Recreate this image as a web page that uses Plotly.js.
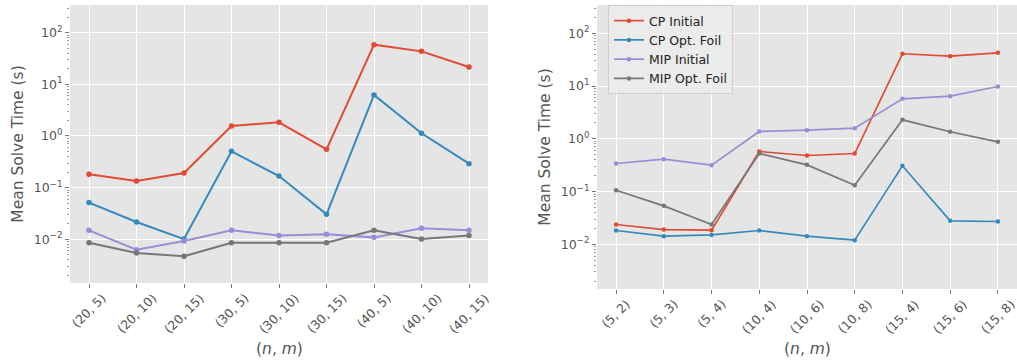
<!DOCTYPE html>
<html>
<head>
<meta charset="utf-8">
<script src="https://cdn.plot.ly/plotly-3.0.1.min.js"></script>
<style>html,body{margin:0;padding:0;background:#fff;} #chart{width:1017px;height:362px;}</style>
</head>
<body>
<div id="chart"></div>
<script>
// ---- data ----
const leftCats = ['(20, 5)', '(20, 10)', '(20, 15)', '(30, 5)', '(30, 10)', '(30, 15)', '(40, 5)', '(40, 10)', '(40, 15)'];
const rightCats = ['(5, 2)', '(5, 3)', '(5, 4)', '(10, 4)', '(10, 6)', '(10, 8)', '(15, 4)', '(15, 6)', '(15, 8)'];

const leftCPInitial  = [0.181, 0.135, 0.192, 1.56, 1.84, 0.552, 58.6, 43.5, 21.6];
const leftCPOptFoil  = [0.0513, 0.0216, 0.0101, 0.505, 0.168, 0.0305, 6.22, 1.13, 0.291];
const leftMIPInitial = [0.0149, 0.0063, 0.0093, 0.0149, 0.0118, 0.0125, 0.0109, 0.0163, 0.0149];
const leftMIPOptFoil = [0.0086, 0.00544, 0.00469, 0.0086, 0.0086, 0.0086, 0.0149, 0.0101, 0.0118];

const rightCPInitial  = [0.0238, 0.0191, 0.0186, 0.575, 0.483, 0.527, 40.9, 36.9, 42.7];
const rightCPOptFoil  = [0.0183, 0.0143, 0.0151, 0.0183, 0.0143, 0.0120, 0.308, 0.0279, 0.0271];
const rightMIPInitial = [0.341, 0.412, 0.317, 1.38, 1.46, 1.59, 5.73, 6.44, 9.82];
const rightMIPOptFoil = [0.106, 0.0537, 0.0238, 0.527, 0.321, 0.132, 2.29, 1.36, 0.877];

const seriesNames = ['CP Initial', 'CP Opt. Foil', 'MIP Initial', 'MIP Opt. Foil'];
const yTickVals = [0.01, 0.1, 1, 10, 100];
const yTickText = ['10<sup>\u22122</sup>', '10<sup>\u22121</sup>', '10<sup>0</sup>', '10<sup>1</sup>', '10<sup>2</sup>'];
const xTitle = '(<i>n</i>, <i>m</i>)';
const yTitle = 'Mean Solve Time (s)';

// ---- styling ----
const colors = ['#E24A33', '#348ABD', '#988ED5', '#777777'];
const txt = '#555555';
const font = 'DejaVu Sans, sans-serif';

const minorVals = [];
for (let e = -3; e <= 2; e++) for (let k = 2; k <= 9; k++) minorVals.push(k * Math.pow(10, e));

const leftSeries = [leftCPInitial, leftCPOptFoil, leftMIPInitial, leftMIPOptFoil];
const rightSeries = [rightCPInitial, rightCPOptFoil, rightMIPInitial, rightMIPOptFoil];

const traces = [];
leftSeries.forEach((ys, i) => traces.push({
  x: leftCats, y: ys, type: 'scatter', mode: 'lines+markers', name: seriesNames[i],
  xaxis: 'x', yaxis: 'y', showlegend: false,
  line: {color: colors[i], width: 2}, marker: {color: colors[i], size: 5.5}
}));
rightSeries.forEach((ys, i) => traces.push({
  x: rightCats, y: ys, type: 'scatter', mode: 'lines+markers', name: seriesNames[i],
  xaxis: 'x2', yaxis: 'y2', showlegend: true,
  line: {color: colors[i], width: 1.7}, marker: {color: colors[i], size: 4.5}
}));

const W = 1017, H = 362;
const lDom = [70 / W, 488 / W];
const rDom = [597 / W, 1017 / W];
const lY = [1 - 283 / H, 1 - 5 / H];
const rY = [1 - 289 / H, 1 - 5 / H];

function xax(dom, anchor) {
  return {
    domain: dom, anchor: anchor, type: 'category', range: [-0.4, 8.4],
    showgrid: true, gridcolor: '#ffffff', gridwidth: 1, zeroline: false,
    showline: false, ticks: 'outside', ticklen: 4, tickwidth: 0.8, tickcolor: txt,
    showticklabels: false, fixedrange: true
  };
}
function yax(dom, anchor) {
  return {
    domain: dom, anchor: anchor, type: 'log', range: [-2.846, 2.536],
    tickvals: yTickVals, ticktext: yTickText,
    showgrid: true, gridcolor: '#ffffff', gridwidth: 1, zeroline: false,
    showline: false, ticks: 'outside', ticklen: 4, tickwidth: 0.8, tickcolor: txt,
    tickfont: {family: font, size: 12.5, color: txt},
    minor: {tickvals: minorVals, ticks: 'outside', ticklen: 2, tickwidth: 0.6, tickcolor: txt, showgrid: false},
    title: {text: yTitle, font: {family: font, size: 15.5, color: txt}, standoff: 6},
    automargin: false
  };
}

const annotations = [];
function tickLabels(cats, xref, yBottom) {
  cats.forEach(c => annotations.push({
    x: c, xref: xref, y: yBottom, yref: 'paper', yshift: -6,
    text: c, showarrow: false, textangle: -45, xanchor: 'center', yanchor: 'top',
    font: {family: font, size: 12.5, color: txt}, borderpad: 0
  }));
}
tickLabels(leftCats, 'x', lY[0]);
tickLabels(rightCats, 'x2', rY[0]);
annotations.push({x: 279 / W, xref: 'paper', y: 1 - 349 / H, yref: 'paper', text: xTitle, showarrow: false,
  xanchor: 'center', yanchor: 'middle', font: {family: font, size: 15.5, color: txt}});
annotations.push({x: 807 / W, xref: 'paper', y: 1 - 349 / H, yref: 'paper', text: xTitle, showarrow: false,
  xanchor: 'center', yanchor: 'middle', font: {family: font, size: 15.5, color: txt}});

const layout = {
  width: W, height: H,
  margin: {l: 0, r: 0, t: 0, b: 0},
  paper_bgcolor: '#ffffff', plot_bgcolor: '#E5E5E5',
  font: {family: font, color: txt},
  xaxis: xax(lDom, 'y'), yaxis: yax(lY, 'x'),
  xaxis2: xax(rDom, 'y2'), yaxis2: yax(rY, 'x2'),
  showlegend: true,
  legend: {
    x: 608 / W, y: 1 - 5 / H, xanchor: 'left', yanchor: 'top',
    bgcolor: 'rgba(236,236,236,0.85)', bordercolor: 'rgba(204,204,204,0.9)', borderwidth: 1,
    font: {family: font, size: 12.5, color: '#222222'}, tracegroupgap: 0, itemwidth: 30
  },
  annotations: annotations
};

Plotly.newPlot('chart', traces, layout, {displayModeBar: false, staticPlot: true});
</script>
</body>
</html>
